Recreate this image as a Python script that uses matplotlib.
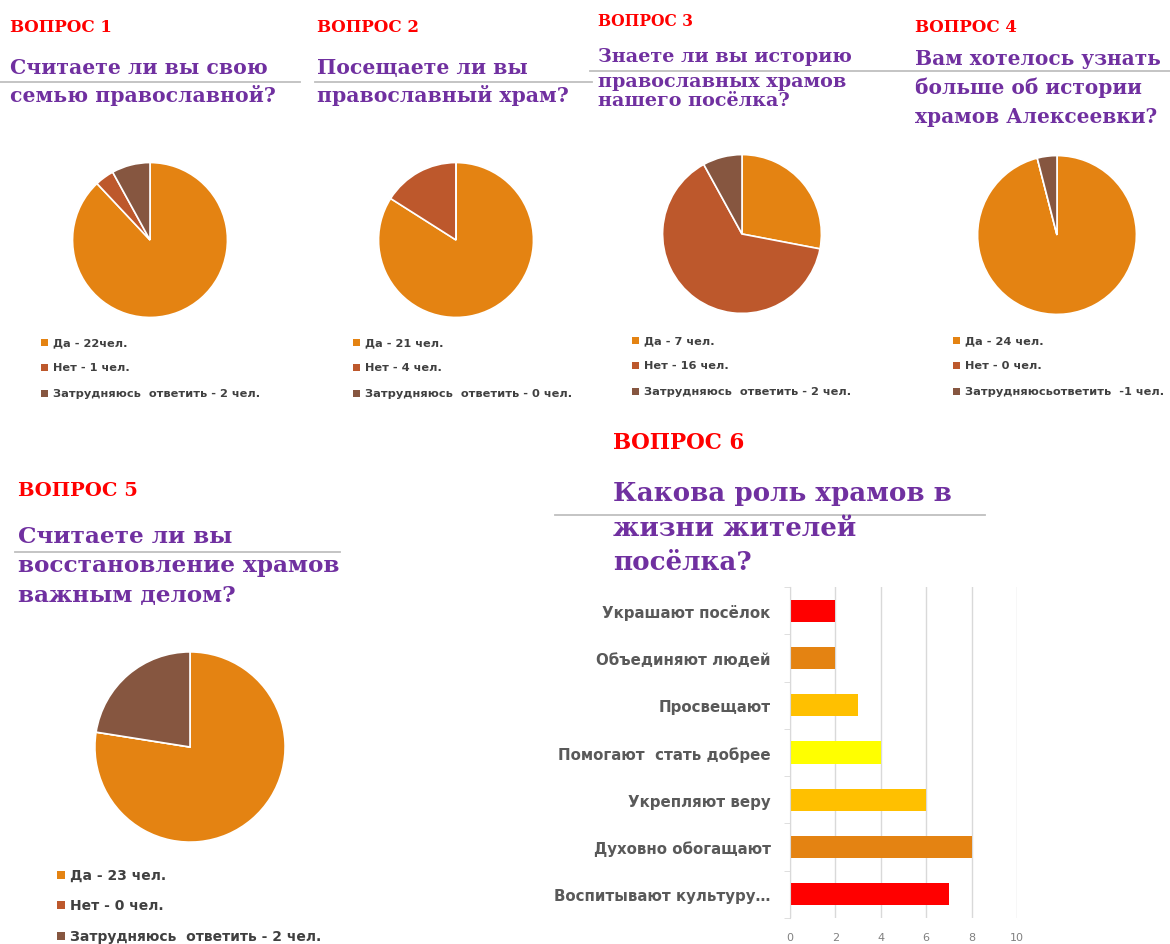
import matplotlib
matplotlib.use("Agg")
import matplotlib.pyplot as plt
from matplotlib.patches import Rectangle
from matplotlib.lines import Line2D

W, H = 1170, 945

# ---------------- data ----------------
pie_labels_q1 = ["Да - 22чел.", "Нет - 1 чел.", "Затрудняюсь  ответить - 2 чел."]
pie_values_q1 = [22, 1, 2]
pie_labels_q2 = ["Да - 21 чел.", "Нет - 4 чел.", "Затрудняюсь  ответить - 0 чел."]
pie_values_q2 = [21, 4, 0]
pie_labels_q3 = ["Да - 7 чел.", "Нет - 16 чел.", "Затрудняюсь  ответить - 2 чел."]
pie_values_q3 = [7, 16, 2]
pie_labels_q4 = ["Да - 24 чел.", "Нет - 0 чел.", "Затрудняюсьответить  -1 чел."]
pie_values_q4 = [24, 0, 1]
pie_labels_q5 = ["Да - 23 чел.", "Нет - 0 чел.", "Затрудняюсь  ответить - 2 чел."]
pie_values_q5 = [77.5, 0, 22.5]   # shares as drawn in the picture

question_heads = ["ВОПРОС 1", "ВОПРОС 2", "ВОПРОС 3", "ВОПРОС 4", "ВОПРОС 5", "ВОПРОС 6"]
question_texts = [
    ["Считаете ли вы свою", "семью православной?"],
    ["Посещаете ли вы", "православный храм?"],
    ["Знаете ли вы историю", "православных храмов", "нашего посёлка?"],
    ["Вам хотелось узнать", "больше об истории", "храмов Алексеевки?"],
    ["Считаете ли вы", "восстановление храмов", "важным делом?"],
    ["Какова роль храмов в", "жизни жителей", "посёлка?"],
]

bar_categories = ["Украшают посёлок", "Объединяют людей", "Просвещают",
                  "Помогают  стать добрее", "Укрепляют веру", "Духовно обогащают",
                  "Воспитывают культуру…"]
bar_values = [2, 2, 3, 4, 6, 8, 7]
bar_colors = ["#FF0000", "#E48312", "#FFC000", "#FFFF00", "#FFC000", "#E48312", "#FF0000"]
bar_ticks = [0, 2, 4, 6, 8, 10]

pie_colors = ["#E48312", "#BD582C", "#865640"]

RED = "#FF0000"
PURPLE = "#7030A0"
SERIF = ["DejaVu Serif"]

fig = plt.figure(figsize=(W / 100, H / 100), dpi=100)
fig.patch.set_facecolor("white")


def fx(x):
    return x / W


def fy(y):
    return 1 - y / H


def add_pie(values, cx, cy, r):
    ax = fig.add_axes([fx(cx - r), fy(cy + r), 2 * r / W, 2 * r / H])
    ax.pie(values, colors=pie_colors, startangle=90, counterclock=False,
           wedgeprops=dict(edgecolor="white", linewidth=1.2))
    ax.set_xlim(-1.02, 1.02)
    ax.set_ylim(-1.02, 1.02)
    ax.set_aspect("auto")
    ax.axis("off")


def add_legend(labels, mx, ys, size, fs):
    for lab, col, y in zip(labels, pie_colors, ys):
        fig.patches.append(Rectangle((fx(mx), fy(y + size / 2)), size / W, size / H,
                                     transform=fig.transFigure, facecolor=col,
                                     edgecolor="none"))
        fig.text(fx(mx + size + 5), fy(y), lab, fontsize=fs, color="#404040",
                 fontweight="bold", va="center", ha="left", family="DejaVu Sans")


def add_title(head, lines, x, yhead, ys, fs_head, fs):
    fig.text(fx(x), fy(yhead), head, color=RED, fontsize=fs_head, fontweight="bold",
             family=SERIF, va="center", ha="left")
    for line, y in zip(lines, ys):
        fig.text(fx(x), fy(y), line, color=PURPLE, fontsize=fs, fontweight="bold",
                 family=SERIF, va="center", ha="left")


def hline(x0, x1, y):
    fig.lines.append(Line2D([fx(x0), fx(x1)], [fy(y), fy(y)], transform=fig.transFigure,
                            color="#BFBFBF", linewidth=1.3))


# ---------------- titles ----------------
add_title(question_heads[0], question_texts[0], 10, 27, [68, 96], 12, 14.7)
add_title(question_heads[1], question_texts[1], 317, 27, [68, 96], 12, 14.7)
add_title(question_heads[2], question_texts[2], 598, 22, [57, 82, 101], 11.2, 13.8)
add_title(question_heads[3], question_texts[3], 915, 27, [59, 88, 117], 12, 14.5)
add_title(question_heads[4], question_texts[4], 18, 491, [537, 566, 596], 14, 16.7)
add_title(question_heads[5], question_texts[5], 613, 443, [494, 528, 562], 15.5, 18.8)

hline(0, 300, 83)
hline(315, 592, 83)
hline(590, 1170, 72)
hline(15, 340, 553)
hline(555, 985, 516)

# ---------------- pies ----------------
add_pie(pie_values_q1, 150, 241, 79)
add_pie(pie_values_q2, 456, 241, 79)
add_pie(pie_values_q3, 742, 235, 81)
add_pie(pie_values_q4, 1057, 236, 81)
add_pie(pie_values_q5, 190, 748, 97)

add_legend(pie_labels_q1, 41, [343, 368, 394], 7, 8.2)
add_legend(pie_labels_q2, 353, [343, 368, 394], 7, 8.2)
add_legend(pie_labels_q3, 632, [341, 366, 392], 7, 8.2)
add_legend(pie_labels_q4, 953, [341, 366, 392], 7, 8.2)
add_legend(pie_labels_q5, 57, [876, 906, 937], 8, 10)

# ---------------- bar chart ----------------
axb = fig.add_axes([fx(790), fy(919), (1017 - 790) / W, (919 - 588) / H])
ypos = list(range(len(bar_categories)))
axb.barh(ypos, bar_values, color=bar_colors, height=0.47)
axb.set_ylim(len(bar_categories) - 0.5, -0.5)
axb.set_xlim(0, 10)
axb.set_xticks(bar_ticks)
axb.set_xticklabels([str(t) for t in bar_ticks], fontsize=8, color="#808080")
axb.set_yticks(ypos)
axb.set_yticklabels(bar_categories, fontsize=10.8, color="#595959", fontweight="bold")
axb.set_yticks([i + 0.5 for i in range(-1, len(bar_categories))], minor=True)
axb.tick_params(axis="y", which="major", length=0, pad=14)
axb.tick_params(axis="y", which="minor", length=4, color="#D9D9D9")
axb.tick_params(axis="x", length=0, pad=10)
axb.grid(axis="x", color="#D9D9D9", linewidth=1)
axb.set_axisbelow(True)
for s in ["top", "right", "bottom"]:
    axb.spines[s].set_visible(False)
axb.spines["left"].set_color("#D9D9D9")

fig.savefig("out.png", dpi=100, facecolor="white")
